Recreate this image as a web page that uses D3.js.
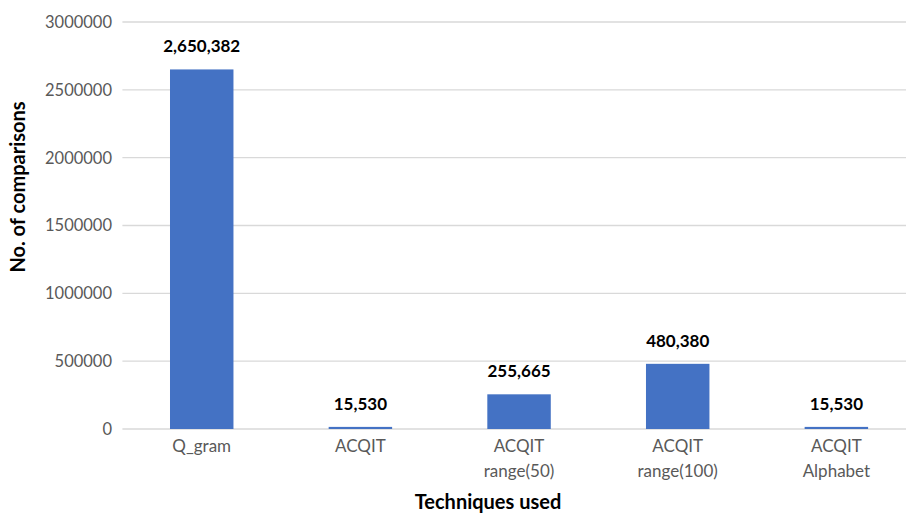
<!DOCTYPE html>
<html><head><meta charset="utf-8">
<script src="https://cdn.jsdelivr.net/npm/d3@7"></script>
<style>body{margin:0;background:#fff;}svg{display:block;}text{font-family:Lato,"Open Sans",sans-serif;}</style>
</head><body><svg id="c" width="906" height="514"></svg>
<script>
const categories = [["Q_gram"], ["ACQIT"], ["ACQIT", "range(50)"], ["ACQIT", "range(100)"], ["ACQIT", "Alphabet"]];
const values = [2650382, 15530, 255665, 480380, 15530];
const yTicks = [0, 500000, 1000000, 1500000, 2000000, 2500000, 3000000];
const xTitle = "Techniques used";
const yTitle = "No. of comparisons";

(function () {
const svg = d3.select("#c");
const mLeft = 122.4, mRight = 915.7, mTop = 22, mBottom = 429;
const keys = categories.map((c, i) => i);
const x = d3.scaleBand().domain(keys).range([mLeft, mRight]).paddingInner(0.6).paddingOuter(0.3);
const y = d3.scaleLinear().domain([0, 3000000]).range([mBottom, mTop]);

// gridlines
svg.append("g").selectAll("line").data(yTicks).join("line")
  .attr("x1", mLeft).attr("x2", mRight)
  .attr("y1", d => y(d)).attr("y2", d => y(d))
  .attr("stroke", "#d9d9d9").attr("stroke-width", 1.3);

// y tick labels
svg.append("g").selectAll("text").data(yTicks).join("text")
  .attr("x", 112).attr("y", d => y(d)).attr("dy", "0.36em")
  .attr("text-anchor", "end").attr("fill", "#595959").attr("font-size", 16.5)
  .text(d => d);

// bars
svg.append("g").selectAll("rect").data(values).join("rect")
  .attr("x", (d, i) => x(i)).attr("width", x.bandwidth())
  .attr("y", d => y(d)).attr("height", d => mBottom - y(d))
  .attr("fill", "#4472C4");

// data labels
const fmt = d3.format(",");
svg.append("g").selectAll("text").data(values).join("text")
  .attr("x", (d, i) => x(i) + x.bandwidth() / 2).attr("y", d => y(d) - 17)
  .attr("text-anchor", "middle").attr("font-weight", "bold").attr("font-size", 17)
  .attr("fill", "#000").text(d => fmt(d));

// category labels
const cl = svg.append("g").selectAll("text").data(categories).join("text")
  .attr("x", (d, i) => x(i) + x.bandwidth() / 2).attr("y", 452)
  .attr("text-anchor", "middle").attr("fill", "#595959").attr("font-size", 17);
cl.selectAll("tspan").data(d => d).join("tspan")
  .attr("x", function () { return d3.select(this.parentNode).attr("x"); })
  .attr("dy", (d, j) => j === 0 ? 0 : 25).text(d => d);

// axis titles
svg.append("text").attr("x", 488).attr("y", 509).attr("text-anchor", "middle")
  .attr("font-weight", "bold").attr("font-size", 20).attr("fill", "#000").text(xTitle);
svg.append("text").attr("transform", "translate(25,187) rotate(-90)").attr("text-anchor", "middle")
  .attr("font-weight", "bold").attr("font-size", 20).attr("fill", "#000").text(yTitle);
})();
</script></body></html>
